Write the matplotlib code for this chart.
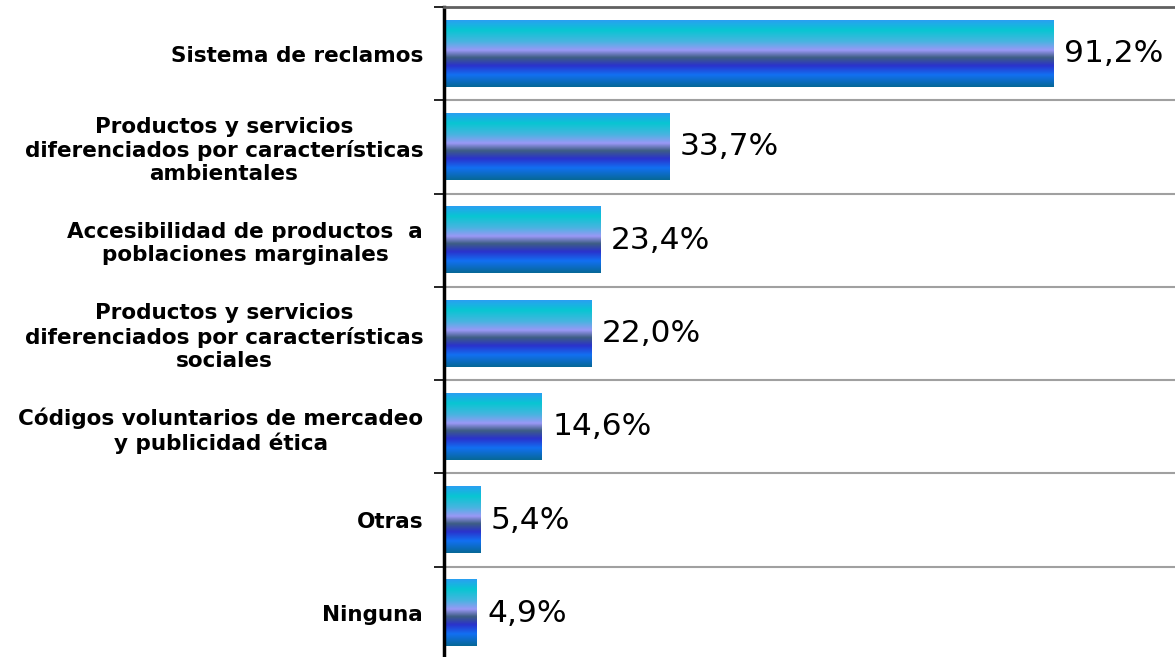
import numpy as np
import matplotlib.pyplot as plt
from matplotlib.colors import LinearSegmentedColormap

categories = [
    "Sistema de reclamos",
    "Productos y servicios\ndiferenciados por características\nambientales",
    "Accesibilidad de productos  a\npoblaciones marginales",
    "Productos y servicios\ndiferenciados por características\nsociales",
    "Códigos voluntarios de mercadeo\ny publicidad ética",
    "Otras",
    "Ninguna",
]
values = [91.2, 33.7, 23.4, 22.0, 14.6, 5.4, 4.9]
value_labels = ["91,2%", "33,7%", "23,4%", "22,0%", "14,6%", "5,4%", "4,9%"]

# vertical gradient of each bar, from top to bottom
grad = LinearSegmentedColormap.from_list("bar", [
    (0.00, "#2a9ff2"),
    (0.15, "#08c6d2"),
    (0.32, "#48b4e0"),
    (0.45, "#9a98f6"),
    (0.56, "#3e5e84"),
    (0.68, "#2a32cc"),
    (0.82, "#1270f2"),
    (1.00, "#066896"),
])

fig = plt.figure(figsize=(11.75, 6.57), dpi=100)
ax = fig.add_axes([444 / 1175, -3 / 657, 1 - 444 / 1175, 653 / 657])

n = len(categories)
y = np.arange(n)
h = 0.71
bars = ax.barh(y, values, height=h, color="none", edgecolor="none")

img = np.linspace(0, 1, 256).reshape(-1, 1)
for b in bars:
    x0, y0 = b.get_x(), b.get_y()
    ax.imshow(img, cmap=grad, aspect="auto", interpolation="bilinear",
              extent=[x0, x0 + b.get_width(), y0 + b.get_height(), y0], zorder=2)

for yi, v, lab in zip(y, values, value_labels):
    ax.text(v + 1.6, yi, lab, va="center", ha="left", fontsize=22.5, color="black")

ax.set_xlim(0, 109.4)
ax.set_ylim(n - 0.5, -0.5)

ax.set_yticks(y)
ax.set_yticklabels(categories, fontsize=15.5, fontweight="bold", ha="right",
                   multialignment="center", linespacing=1.2)
ax.tick_params(axis="y", which="major", length=0, pad=15)
ax.set_yticks(np.arange(n + 1) - 0.5, minor=True)
ax.tick_params(axis="y", which="minor", length=7, width=1.2, direction="out")
ax.grid(axis="y", which="minor", color="#a0a0a0", linewidth=1.5)
ax.set_axisbelow(True)
ax.set_xticks([])

for s in ["right", "bottom"]:
    ax.spines[s].set_visible(False)
ax.spines["top"].set_color("#606060")
ax.spines["top"].set_linewidth(2)
ax.spines["left"].set_linewidth(2.5)
ax.spines["left"].set_color("black")

fig.savefig("out.png", dpi=100)
